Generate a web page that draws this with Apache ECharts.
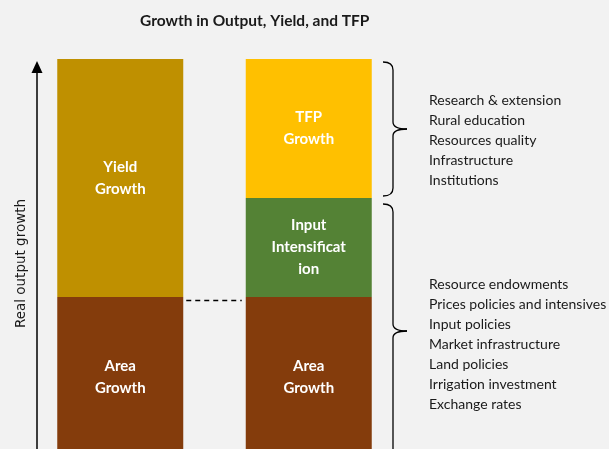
<!DOCTYPE html>
<html>
<head>
<meta charset="utf-8">
<script src="https://cdn.jsdelivr.net/npm/echarts@6/dist/echarts.min.js"></script>
<style>
  html, body { margin: 0; padding: 0; background: #f2f2f2; }
  #chart { width: 609px; height: 449px; }
</style>
</head>
<body>
<div id="chart"></div>
<script>
// chart data
const categories = ['Output', 'Sources'];
const areaGrowth = [161, 161];
const yieldGrowth = [238, '-'];
const inputIntensification = ['-', 99];
const tfpGrowth = ['-', 139];
const tfpDrivers = ['Research & extension', 'Rural education', 'Resources quality', 'Infrastructure', 'Institutions'];
const inputDrivers = ['Resource endowments', 'Prices policies and intensives', 'Input policies', 'Market infrastructure', 'Land policies', 'Irrigation investment', 'Exchange rates'];

const chart = echarts.init(document.getElementById('chart'));

const barLabel = (text) => ({
    show: true,
    position: 'inside',
    formatter: text,
    color: '#ffffff',
    fontFamily: 'Lato',
    fontWeight: 'bold',
    fontSize: 15,
    lineHeight: 22
});

function barSeries(name, data, color, text) {
    return {
        name: name,
        type: 'bar',
        stack: 'total',
        barWidth: 126,
        data: data,
        itemStyle: { color: color },
        label: barLabel(text),
        emphasis: { disabled: true }
    };
}

const total = areaGrowth[1] + inputIntensification[1] + tfpGrowth[1];

chart.setOption({
    backgroundColor: '#f2f2f2',
    animation: false,
    title: {
        text: 'Growth in Output, Yield, and TFP',
        left: 140,
        top: 13,
        padding: 0,
        textStyle: { fontFamily: 'Lato', fontWeight: 'bold', fontSize: 15.5, color: '#1a1a1a' }
    },
    grid: { left: 26, width: 377, top: 59, bottom: -9, outerBoundsMode: 'none', containLabel: false },
    xAxis: {
        type: 'category',
        data: categories,
        show: false
    },
    yAxis: {
        type: 'value',
        min: 0,
        max: total,
        offset: -11,
        name: 'Real output growth',
        nameLocation: 'middle',
        nameRotate: 90,
        nameGap: 9,
        nameTextStyle: { fontFamily: 'DejaVu Sans', fontSize: 13.5, color: '#1a1a1a', padding: [0, 10, 0, 0] },
        axisLine: { show: false },
        axisTick: { show: false },
        axisLabel: { show: false },
        splitLine: { show: false }
    },
    series: [
        barSeries('Area Growth', areaGrowth, '#843c0c', 'Area\nGrowth'),
        barSeries('Yield Growth', yieldGrowth, '#bf9000', 'Yield\nGrowth'),
        barSeries('Input Intensification', inputIntensification, '#548235', 'Input\nIntensificat\nion'),
        barSeries('TFP Growth', tfpGrowth, '#ffc000', 'TFP\nGrowth')
    ]
});

// decorations positioned from the axes
const px = (cat, v) => chart.convertToPixel({ seriesIndex: 0 }, [cat, v]);
const topY = px(1, total)[1];
const bottomY = px(1, 0)[1];
const areaY = px(0, areaGrowth[0])[1];
const inputTopY = px(1, areaGrowth[1] + inputIntensification[1])[1];
const leftEdge = px(0, 0)[0] + 63;
const rightEdge = px(1, 0)[0] - 63;

const lineStyle = { stroke: '#000', lineWidth: 1.3, fill: null };

// right curly brace made of curves and lines
function brace(x0, y0, y1) {
    const mid = (y0 + y1) / 2;
    const v = x0 + 10;
    const curve = (x1, y1a, cx, cy, x2, y2) => ({
        type: 'bezierCurve',
        shape: { x1: x1, y1: y1a, cpx1: cx, cpy1: cy, x2: x2, y2: y2 },
        style: lineStyle
    });
    const seg = (ya, yb) => ({ type: 'line', shape: { x1: v, y1: ya, x2: v, y2: yb }, style: lineStyle });
    return [
        curve(x0, y0, v, y0, v, y0 + 8),
        seg(y0 + 8, mid - 7),
        curve(v, mid - 7, v, mid, v + 14, mid),
        curve(v + 14, mid, v, mid, v, mid + 7),
        seg(mid + 7, y1 - 8),
        curve(v, y1 - 8, v, y1, x0, y1)
    ];
}

const axisX = 37;
const listStyle = { fontFamily: 'Lato', fontSize: 14, lineHeight: 20, fill: '#1a1a1a' };
const dashY = Math.round(areaY) + 3.5;

chart.setOption({
    graphic: [
        { type: 'line', shape: { x1: axisX, y1: bottomY, x2: axisX, y2: topY + 10 }, style: { stroke: '#000', lineWidth: 1.5 } },
        { type: 'polygon', shape: { points: [[axisX, topY + 2], [axisX - 5.5, topY + 14], [axisX + 5.5, topY + 14]] }, style: { fill: '#000' } },
        { type: 'line', shape: { x1: leftEdge + 3, y1: dashY, x2: rightEdge - 4, y2: dashY }, style: { stroke: '#000', lineWidth: 1.3, lineDash: [5, 4] } },
        ...brace(383, topY + 3, inputTopY - 2),
        ...brace(383, inputTopY + 6, bottomY),
        { type: 'text', x: 429, y: 90, style: Object.assign({ text: tfpDrivers.join('\n') }, listStyle) },
        { type: 'text', x: 429, y: 274, style: Object.assign({ text: inputDrivers.join('\n') }, listStyle) }
    ]
});
</script>
</body>
</html>
